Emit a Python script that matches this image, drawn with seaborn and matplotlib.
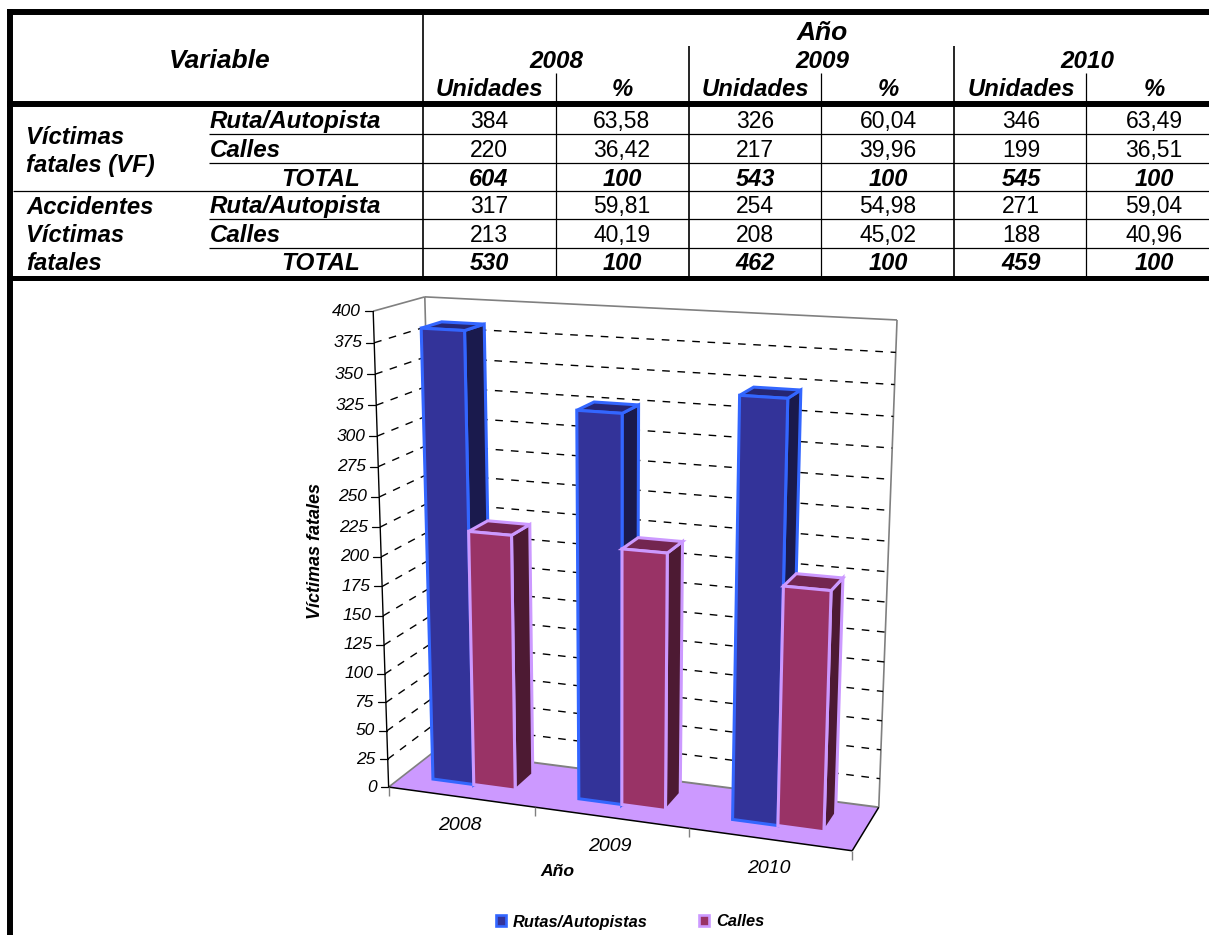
import matplotlib
matplotlib.use("Agg")
import matplotlib.pyplot as plt
from matplotlib.patches import Patch, Polygon
from matplotlib.transforms import Transform
import numpy as np
import pandas as pd
import seaborn as sns

# --- table values ---
years = ["2008", "2009", "2010"]
vf_rutas = [384, 326, 346]
vf_calles = [220, 217, 199]
vf_total = [604, 543, 545]
vf_rutas_pct = ["63,58", "60,04", "63,49"]
vf_calles_pct = ["36,42", "39,96", "36,51"]
acc_rutas = [317, 254, 271]
acc_calles = [213, 208, 188]
acc_total = [530, 462, 459]
acc_rutas_pct = ["59,81", "54,98", "59,04"]
acc_calles_pct = ["40,19", "45,02", "40,96"]
total_pct = ["100", "100", "100"]

series_names = ["Rutas/Autopistas", "Calles"]
y_ticks = list(range(0, 401, 25))

W, H = 1209, 935
ROOF = 400


# --- fake 3D box: fit a camera on the corners of the Excel chart box ---
world = np.array([[0, 0, 0], [0, 1, 0], [3, 0, 0], [0, 0, 1], [0, 1, 1], [3, 0, 1], [3, 1, 1]], float)
pixels = np.array([[389, 787], [373, 311], [852, 851], [436, 750], [425, 297], [879, 807], [897, 320]], float)
rows = []
for (a, b, c), (u, v) in zip(world, pixels / 1000):
    rows.append([a, b, c, 1, 0, 0, 0, 0, -u * a, -u * b, -u * c, -u])
    rows.append([0, 0, 0, 0, a, b, c, 1, -v * a, -v * b, -v * c, -v])
camera = np.linalg.svd(np.array(rows))[2][-1].reshape(3, 4)


def project(x, y, z):
    x, y = np.asarray(x, float), np.asarray(y, float) / ROOF
    pts = np.column_stack([x, y, np.full_like(x, z), np.ones_like(x)])
    out = pts @ camera.T
    return out[:, :2] / out[:, 2:] * 1000


def pt(x, y, z):
    return project([x], [y], z)[0]


class BoxFace(Transform):
    # maps the (category, value) plane of the bar plot onto a depth slice of the box
    input_dims = 2
    output_dims = 2
    has_inverse = False
    is_separable = False

    def __init__(self, z):
        super().__init__()
        self.z = z

    def transform_non_affine(self, values):
        values = np.asarray(values, float)
        return project(values[:, 0] + CAT_SHIFT, values[:, 1], self.z)


CAT_SHIFT = 0.49
Z0, Z1 = 0.31, 0.72

sns.set_theme(style="white")
plt.rcParams["font.family"] = ["Liberation Sans", "DejaVu Sans"]
plt.rcParams["text.color"] = "black"

df = pd.DataFrame({
    "year": years * 2,
    "value": vf_rutas + vf_calles,
    "series": [series_names[0]] * 3 + [series_names[1]] * 3,
})

fig = plt.figure(figsize=(W / 100, H / 100), dpi=100)
ax = fig.add_axes([0, 0, 1, 1])

face_cols = ["#333399", "#993366"]
side_cols = ["#1A1A4D", "#4D1A33"]
top_cols = ["#262673", "#732650"]
edge_cols = ["#3366FF", "#CC99FF"]

sns.barplot(data=df, x="year", y="value", hue="series", hue_order=series_names, order=years,
            palette=face_cols, saturation=1, width=0.57, gap=0, legend=False, ax=ax)

ax.set_xlim(0, W)
ax.set_ylim(H, 0)
ax.set_axis_off()

# --- box walls ---
GREY = "#808080"
ax.add_patch(Polygon([pt(0, 0, 0), pt(3, 0, 0), pt(3, 0, 1), pt(0, 0, 1)], fc="#CC99FF", ec="none", zorder=3))


def seg(p, q, **kw):
    ax.plot([p[0], q[0]], [p[1], q[1]], solid_capstyle="butt", **kw)


seg(pt(0, ROOF, 0), pt(0, ROOF, 1), color=GREY, lw=1.2, zorder=2)
seg(pt(0, ROOF, 1), pt(3, ROOF, 1), color=GREY, lw=1.2, zorder=2)
seg(pt(3, ROOF, 1), pt(3, 0, 1), color=GREY, lw=1.2, zorder=2)
seg(pt(0, ROOF, 1), pt(0, 0, 1), color=GREY, lw=1.2, zorder=2)
seg(pt(0, 0, 0), pt(0, 0, 1), color=GREY, lw=1.2, zorder=4)
seg(pt(0, 0, 1), pt(3, 0, 1), color=GREY, lw=1.4, zorder=4)

for t in y_ticks:
    p0 = pt(0, t, 0)
    if 0 < t < ROOF:
        p1, p2 = pt(0, t, 1), pt(3, t, 1)
        ax.plot([p0[0], p1[0], p2[0]], [p0[1], p1[1], p2[1]], color="black", lw=1.0,
                ls=(0, (5.5, 5.5)), zorder=2)
    ax.plot([p0[0] - 8, p0[0]], [p0[1], p0[1]], color="black", lw=0.9, zorder=5)
    ax.text(p0[0] - 12, p0[1], str(t), ha="right", va="center", fontsize=12.5, style="italic", color="black")

seg(pt(0, ROOF, 0), pt(0, 0, 0), color="black", lw=1.0, zorder=5)
seg(pt(0, 0, 0), pt(3, 0, 0), color="black", lw=1.1, zorder=5)
seg(pt(3, 0, 0), pt(3, 0, 1), color="black", lw=1.1, zorder=5)
for i in range(4):
    p = pt(i, 0, 0)
    seg(p, (p[0], p[1] + 9), color=GREY, lw=1.0, zorder=5)
for i, year in enumerate(years):
    p = pt(i + 0.5, 0, 0)
    ax.text(p[0] - 1, p[1] + 29, year, ha="center", va="center", fontsize=14, style="italic", color="black")

# --- bars: seaborn rectangles become front faces, sides and tops follow them ---
front = BoxFace(Z0) + ax.transData
for h, cont in enumerate(ax.containers):
    for i, rect in enumerate(cont):
        x0, x1 = rect.get_x() + CAT_SHIFT, rect.get_x() + rect.get_width() + CAT_SHIFT
        val = rect.get_height()
        order = 10 + 2 * i + h
        side = [pt(x1, val, Z0), pt(x1, val, Z1), pt(x1, 0, Z1), pt(x1, 0, Z0)]
        top = [pt(x0, val, Z0), pt(x1, val, Z0), pt(x1, val, Z1), pt(x0, val, Z1)]
        ax.add_patch(Polygon(side, fc=side_cols[h], ec=edge_cols[h], lw=2.2, zorder=order, joinstyle="miter"))
        ax.add_patch(Polygon(top, fc=top_cols[h], ec=edge_cols[h], lw=2.2, zorder=order, joinstyle="miter"))
        rect.set_transform(front)
        rect.set_edgecolor(edge_cols[h])
        rect.set_linewidth(2.2)
        rect.set_zorder(order + 0.5)
        rect.set_clip_on(False)

ax.text(315, 551, "Víctimas fatales", rotation=90, ha="center", va="center", fontsize=13,
        style="italic", weight="bold", color="black")
ax.text(557, 871, "Año", ha="center", va="center", fontsize=12.6, style="italic", weight="bold", color="black")

handles = [Patch(fc=face_cols[k], ec=edge_cols[k], lw=1.9) for k in range(2)]
ax.legend(handles, series_names, ncol=2, frameon=False, loc="center",
          bbox_to_anchor=(630 / W, 1 - 922 / H), handlelength=0.65, handleheight=0.65,
          handletextpad=0.4, columnspacing=3.1, labelcolor="black",
          prop={"size": 11.8, "style": "italic", "weight": "bold"})

# --- table lines ---
THICK = 4.3
THIN = 0.9
ax.hlines([12, 104], 7, W, color="black", lw=THICK, zorder=6)
ax.hlines(277.5, 7, W, color="black", lw=3.6, zorder=6)
ax.vlines(10, 9, H, color="black", lw=THICK, zorder=6)
ax.hlines(191, 13, W, color="black", lw=THIN, zorder=6)
ax.hlines([134, 163, 219, 248], 209, W, color="black", lw=THIN, zorder=6)
ax.vlines(423, 15, 276, color="black", lw=1.2, zorder=6)
ax.vlines([689, 954], 46, 276, color="black", lw=1.2, zorder=6)
ax.vlines([556, 821, 1086], 73, 276, color="black", lw=THIN, zorder=6)


# --- table text, placed on baselines so digits and commas line up ---
def label(x, y, s, size=17.2, ha="center", bold=True, italic=True):
    ax.text(x, y, s, ha=ha, va="baseline", fontsize=size, weight="bold" if bold else "normal",
            style="italic" if italic else "normal", color="black", zorder=7)


label(220, 68, "Variable", size=19)
label(822, 40, "Año", size=19)
year_x = [556, 822, 1087]
unit_x = [489, 755, 1021]
pct_x = [622, 888, 1154]
for i in range(3):
    label(year_x[i], 68, years[i], size=17.5)
    label(unit_x[i], 96, "Unidades")
    label(pct_x[i], 96, "%")

left_rows = [(144, "Víctimas"), (172, "fatales (VF)"), (214, "Accidentes"), (242, "Víctimas"), (270, "fatales")]
for y, s in left_rows:
    label(26, y, s, ha="left")

row_y = [128, 157, 186, 213, 242, 270]
row_names = ["Ruta/Autopista", "Calles", "TOTAL"] * 2
row_units = [vf_rutas, vf_calles, vf_total, acc_rutas, acc_calles, acc_total]
row_pcts = [vf_rutas_pct, vf_calles_pct, total_pct, acc_rutas_pct, acc_calles_pct, total_pct]
for y, name, units, pcts in zip(row_y, row_names, row_units, row_pcts):
    is_total = name == "TOTAL"
    if is_total:
        label(321, y, name, size=17.5)
    else:
        label(210, y, name, size=17.4, ha="left")
    for i in range(3):
        label(unit_x[i], y, str(units[i]), size=17 if is_total else 16.5, bold=is_total, italic=is_total)
        label(pct_x[i], y, pcts[i], size=17 if is_total else 16.5, bold=is_total, italic=is_total)

fig.savefig("out.png", dpi=100, facecolor="white")
